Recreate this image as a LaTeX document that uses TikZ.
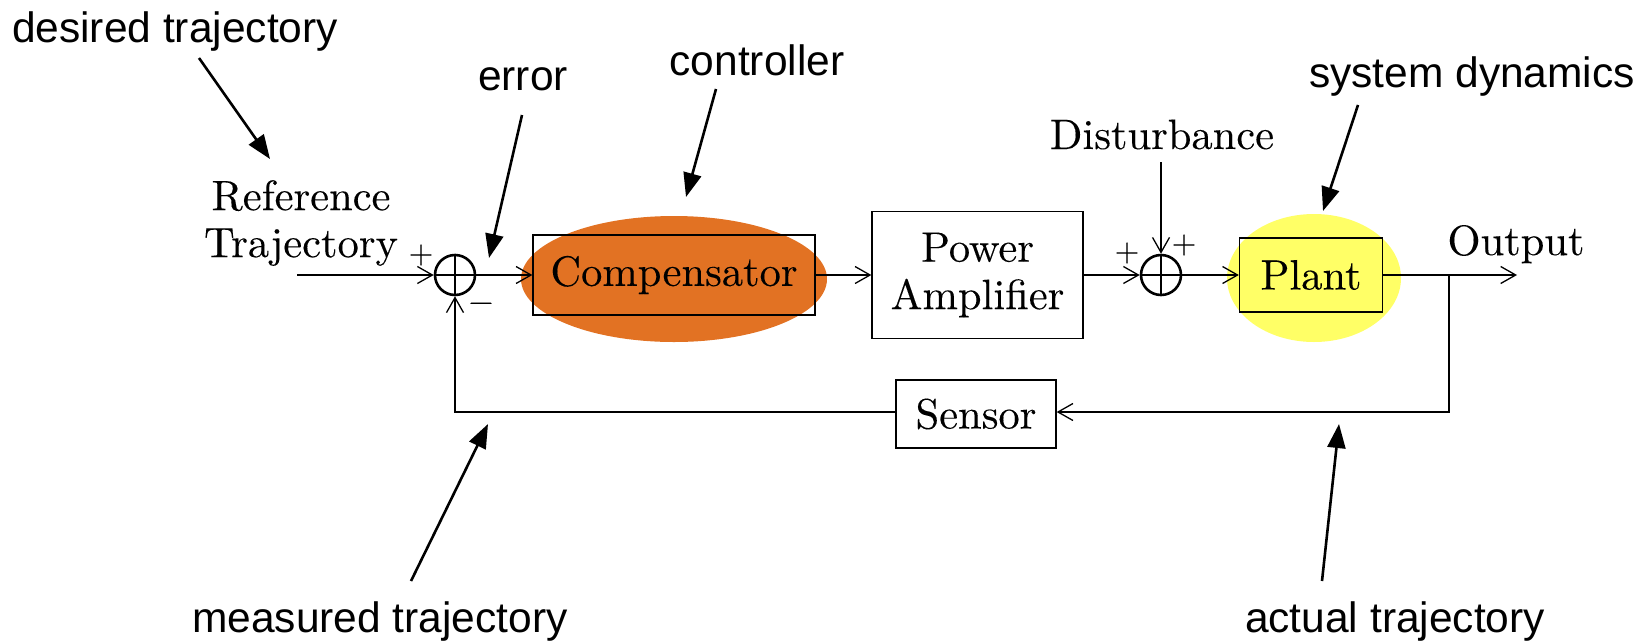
\documentclass[tikz,border=0pt]{standalone}
\usepackage{fontspec}
\newfontfamily\arialfont{Liberation Sans}
\newfontfamily\cmfont{lmroman10-regular.otf}[FakeBold=0.15]
\usetikzlibrary{arrows.meta,shapes.geometric}
\definecolor{comporange}{RGB}{226,114,35}
\definecolor{plantyellow}{RGB}{255,255,102}
\begin{document}
\begin{tikzpicture}[x=1pt,y=-1pt,
  blk/.style={draw, line width=1.3pt, inner sep=0pt, font=\cmfont\fontsize{42.5}{47.5}\selectfont, align=center},
  lbl/.style={inner sep=0pt, font=\cmfont\fontsize{42.5}{47}\selectfont, align=center},
  sgn/.style={inner sep=0pt, font=\cmfont\fontsize{32}{36}\selectfont},
  note/.style={inner sep=0pt, anchor=base, font=\arialfont\fontsize{42.5}{50}\selectfont},
  sig/.style={line width=1.3pt, -{Straight Barb[length=15pt,width=17pt,line width=1.3pt]}},
  ann/.style={line width=2.6pt, -{Triangle[length=24pt,width=18pt]}},
  sumc/.style={circle, draw, line width=2.6pt, minimum size=40pt, inner sep=0pt},
  hilite/.style={ellipse, draw=none, inner sep=0pt}
]
\useasboundingbox (0,0) rectangle (1643,643);

% highlight ellipses
\node[hilite, fill=comporange, minimum width=306pt, minimum height=126pt] (compell) at (674,279) {};
\node[hilite, fill=plantyellow, minimum width=174pt, minimum height=128pt] (plantell) at (1314,278) {};

% blocks
\node[blk, minimum width=282pt, minimum height=80pt] (comp) at (674,275) {Compensator};
\node[blk, minimum width=211pt, minimum height=127pt] (amp) at (977.5,275) {Power\\Amplifier};
\node[blk, minimum width=143pt, minimum height=74pt] (plant) at (1311,275) {Plant};
\node[blk, minimum width=160pt, minimum height=68pt] (sensor) at (976,414) {Sensor};

% summing junctions
\node[sumc] (sum1) at (455,275) {};
\draw[line width=2.2pt] (sum1.north) -- (sum1.south) (sum1.west) -- (sum1.east);
\node[sumc] (sum2) at (1161,275) {};
\draw[line width=2.2pt] (sum2.north) -- (sum2.south) (sum2.west) -- (sum2.east);

% labels
\node[lbl] (ref) at (301,223) {Reference\\Trajectory};
\node[lbl, anchor=base] (dist) at (1162,149) {Disturbance};
\node[lbl, anchor=base] (outl) at (1516,255) {Output};
\node[sgn] (p1) at (421,255) {+};
\node[sgn] (m1) at (481,307) {−};
\node[sgn] (p2) at (1127,253) {+};
\node[sgn] (p3) at (1184,245) {+};

% signal connectors
\coordinate (in) at (297,275);
\coordinate (out) at (1517,275);
\coordinate (br) at (1449,275);
\coordinate (brd) at (1449,412);
\coordinate (fbl) at (455,412);
\coordinate (dtop) at (1161,162);
\draw[sig] (in) -- (sum1.west);
\draw[sig] (sum1.east) -- (comp.west);
\draw[sig] (comp.east) -- (amp.west);
\draw[sig] (amp.east) -- (sum2.west);
\draw[sig] (sum2.east) -- (plant.west);
\draw[sig] (plant.east) -- (out);
\draw[sig] (br) -- (brd) -- (brd -| sensor.east);
\draw[sig] (fbl -| sensor.west) -- (fbl) -- (sum1.south);
\draw[sig] (dtop) -- (sum2.north);

% annotations
\node[note] (n1) at (175,42) {desired trajectory};
\node[note] (n2) at (523,90) {error};
\node[note] (n3) at (757,75) {controller};
\node[note] (n4) at (1472,87) {system dynamics};
\node[note] (n5) at (380,632) {measured trajectory};
\node[note] (n6) at (1395,632) {actual trajectory};

\coordinate (a1s) at (199,58);  \coordinate (a1e) at (270,159);
\coordinate (a2s) at (522,115); \coordinate (a2e) at (489,258);
\coordinate (a3s) at (716,89);  \coordinate (a3e) at (686,197);
\coordinate (a4s) at (1358,105);\coordinate (a4e) at (1323,211);
\coordinate (a5s) at (411,581); \coordinate (a5e) at (488,424);
\coordinate (a6s) at (1322,581);\coordinate (a6e) at (1339,424);
\draw[ann] (a1s) -- (a1e);
\draw[ann] (a2s) -- (a2e);
\draw[ann] (a3s) -- (a3e);
\draw[ann] (a4s) -- (a4e);
\draw[ann] (a5s) -- (a5e);
\draw[ann] (a6s) -- (a6e);
\end{tikzpicture}
\end{document}
